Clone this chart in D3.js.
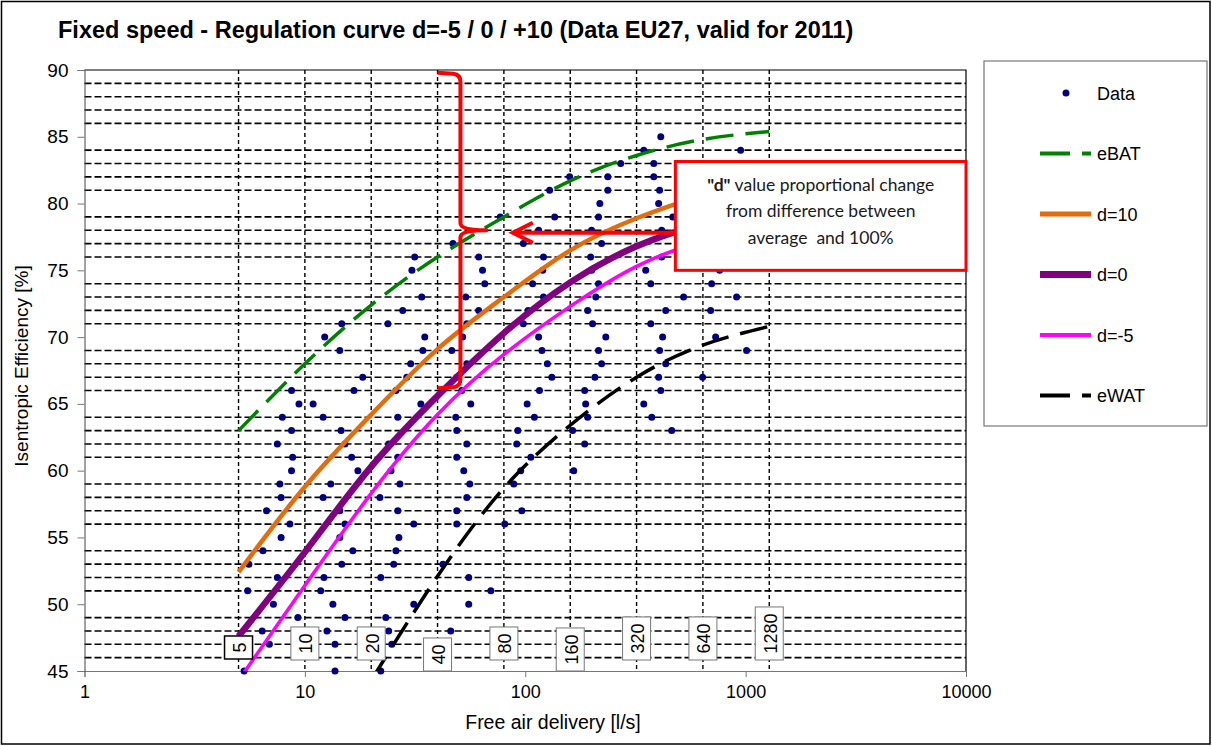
<!DOCTYPE html>
<html>
<head>
<meta charset="utf-8">
<script src="https://cdn.jsdelivr.net/npm/d3@7"></script>
<style>
  body { margin: 0; background: #fff; }
  svg text { font-family: "Liberation Sans", Arial, sans-serif; }
</style>
</head>
<body>
<svg width="1212" height="746"></svg>
<script>
// ---- data ----
var curveX = [5, 10, 20, 40, 80, 160, 320, 640, 1280];
var eBAT = [63.0, 68.0, 72.4, 76.0, 79.0, 81.7, 83.6, 84.8, 85.4];
var d10 = [52.4, 58.8, 64.2, 69.1, 73.0, 76.5, 78.9, 80.6, 81.8];
var d0 = [47.6, 53.9, 60.3, 65.6, 70.3, 74.1, 76.8, 78.5, 79.7];
var dm5 = [44.3, 51.4, 58.3, 64.2, 68.7, 72.3, 75.3, 77.2, 78.5];
var eWAT = [null, null, 44.3, 52.1, 58.7, 63.4, 67.0, 69.4, 70.8];

// measured units: [free air delivery l/s, isentropic efficiency %]
var dataPoints = [
  [412, 85],
  [345, 84], [949, 84],
  [271, 83], [383, 83],
  [159, 82], [237, 82], [383, 82],
  [129, 81], [237, 81], [407, 81],
  [218, 80], [403, 80],
  [77, 79], [136, 79], [215, 79], [467, 79],
  [115, 78], [200, 78], [416, 78],
  [47, 77], [98, 77], [222, 77],
  [31.5, 76], [61.5, 76], [121, 76], [198, 76], [416, 76],
  [30.6, 75], [64, 75], [120, 75], [200, 75], [352, 75], [762, 75],
  [65.5, 74], [108, 74], [215, 74], [371, 74], [701, 74],
  [33.9, 73], [53.7, 73], [121, 73], [209, 73], [523, 73], [910, 73],
  [27.8, 72], [61.5, 72], [103, 72], [192, 72], [434, 72], [694, 72],
  [14.7, 71], [23.8, 71], [54.3, 71], [98, 71], [202, 71], [371, 71],
  [12.3, 70], [35, 70], [52, 70], [115, 70], [232, 70], [420, 70], [731, 70],
  [14.4, 69], [34.3, 69], [46.4, 69], [119, 69], [215, 69], [407, 69], [1010, 69],
  [30.2, 68], [54.3, 68], [126, 68], [222, 68], [434, 68],
  [18.3, 67], [29, 67], [48.9, 67], [132, 67], [207, 67], [403, 67], [638, 67],
  [8.7, 66], [16.7, 66], [25.9, 66], [51.5, 66], [116, 66], [186, 66], [412, 66],
  [9.4, 65], [10.9, 65], [33.6, 65], [56.6, 65], [102, 65], [188, 65], [345, 65],
  [7.9, 64], [12.1, 64], [26.4, 64], [48.4, 64], [110, 64], [192, 64], [375, 64],
  [8.7, 63], [14.6, 63], [48.9, 63], [92.5, 63], [164, 63], [462, 63],
  [7.5, 62], [15.2, 62], [24, 62], [54.3, 62], [91.5, 62], [186, 62],
  [8.8, 61], [16.3, 61], [26.4, 61], [48.9, 61], [106, 61],
  [8.7, 60], [17.4, 60], [24.6, 60], [52.6, 60], [95.4, 60], [166, 60],
  [7.7, 59], [13.1, 59], [27, 59], [56, 59], [88.7, 59],
  [7.8, 58], [12.1, 58], [21.9, 58], [54.3, 58],
  [6.7, 57], [14.4, 57], [26.4, 57], [48.9, 57], [96.4, 57],
  [8.55, 56], [15.2, 56], [31.2, 56], [48.9, 56], [80.7, 56],
  [7.8, 55], [14.4, 55], [26.7, 55],
  [6.45, 54], [16.5, 54], [25.9, 54],
  [5.57, 53], [14.7, 53], [25.3, 53], [42.3, 53],
  [7.5, 52], [12.2, 52], [22.1, 52], [55.4, 52],
  [5.5, 51], [11.8, 51], [69.8, 51],
  [7.2, 50], [13.4, 50], [31.2, 50], [55.4, 50],
  [9.3, 49], [15.2, 49], [23.3, 49],
  [6.4, 48], [12.6, 48], [24, 48], [45.9, 48],
  [6.9, 47], [13.7, 47], [24.8, 47],
  [5.3, 45], [13.7, 45], [22.1, 45]
];

var xTicks = [1, 10, 100, 1000, 10000];
var yTicks = [45, 50, 55, 60, 65, 70, 75, 80, 85, 90];
var gridLabels = ["5", "10", "20", "40", "80", "160", "320", "640", "1280"];

var series = [
  { name: "eBAT", values: eBAT, color: "#008000", width: 3.5, dash: "28,12" },
  { name: "d=10", values: d10, color: "#E46C0A", width: 4.5, dash: null },
  { name: "d=0", values: d0, color: "#800080", width: 6.5, dash: null },
  { name: "d=-5", values: dm5, color: "#FF00FF", width: 3.5, dash: null },
  { name: "eWAT", values: eWAT, color: "#000000", width: 3.5, dash: "28,12" }
];

// ---- layout ----
var svg = d3.select("svg"),
  plotL = 84.5, plotR = 966, plotT = 70, plotB = 671;

var xScale = d3.scaleLog().domain([1, 10000]).range([plotL, plotR]),
  yScale = d3.scaleLinear().domain([45, 90]).range([plotB, plotT]);

// outer frame
svg.append("rect")
  .attr("x", 1.5).attr("y", 1.5).attr("width", 1208.5).attr("height", 742.5)
  .attr("fill", "#fff").attr("stroke", "#000").attr("stroke-width", 1.5);

// Title
svg.append("text")
  .attr("x", 58)
  .attr("y", 38)
  .style("font-size", "23.5px")
  .style("font-weight", "bold")
  .text("Fixed speed - Regulation curve d=-5 / 0 / +10 (Data EU27, valid for 2011)");

svg.append("clipPath").attr("id", "plotclip")
  .append("rect").attr("x", plotL).attr("y", plotT)
  .attr("width", plotR - plotL).attr("height", plotB - plotT);

// horizontal minor gridlines (every 1 %, none on the labelled 5 % steps)
var hGrid = d3.range(46, 90).filter(function (v) { return v % 5 !== 0; });
svg.append("g").selectAll("line")
  .data(hGrid).enter().append("line")
  .attr("x1", plotL).attr("x2", plotR)
  .attr("y1", function (d) { return yScale(d); })
  .attr("y2", function (d) { return yScale(d); })
  .attr("stroke", "#000").attr("stroke-width", 1.6)
  .attr("stroke-dasharray", "7,3");

// vertical dashed guide lines at 5, 10, 20 ... 1280
svg.append("g").selectAll("line")
  .data(curveX).enter().append("line")
  .attr("x1", function (d) { return xScale(d); })
  .attr("x2", function (d) { return xScale(d); })
  .attr("y1", plotT).attr("y2", plotB)
  .attr("stroke", "#000").attr("stroke-width", 1.4)
  .attr("stroke-dasharray", "4,3");

// plot frame
svg.append("path")
  .attr("d", "M" + plotL + "," + plotT + "H" + plotR + "V" + plotB)
  .attr("fill", "none").attr("stroke", "#000").attr("stroke-width", 1.2);

// X Axis
var xAxis = svg.append("g")
  .attr("transform", "translate(0," + plotB + ")")
  .call(d3.axisBottom(xScale).tickValues(xTicks).tickFormat(d3.format("d")).tickSizeOuter(0).tickSize(6).tickPadding(8));
xAxis.select(".domain").attr("stroke", "#777");
xAxis.selectAll(".tick line").attr("stroke", "#777");
xAxis.selectAll("text").style("font-size", "18px").attr("fill", "#000")
  .style("font-family", "'Liberation Sans', Arial, sans-serif");

// Y Axis
var yAxis = svg.append("g")
  .attr("transform", "translate(" + plotL + ",0)")
  .call(d3.axisLeft(yScale).tickValues(yTicks).tickSizeOuter(0).tickSize(7).tickPadding(9));
yAxis.select(".domain").attr("stroke", "#444");
yAxis.selectAll(".tick line").attr("stroke", "#777");
yAxis.selectAll("text").style("font-size", "19px").attr("fill", "#000")
  .style("font-family", "'Liberation Sans', Arial, sans-serif");

// axis titles
svg.append("text")
  .attr("x", 553).attr("y", 729)
  .attr("text-anchor", "middle")
  .style("font-size", "19.5px")
  .text("Free air delivery [l/s]");

svg.append("text")
  .attr("text-anchor", "middle")
  .attr("transform", "translate(28," + 366 + ")rotate(-90)")
  .style("font-size", "19px")
  .text("Isentropic Efficiency [%]");

// Place Dots
svg.append("g")
  .selectAll("circle")
  .data(dataPoints)
  .enter()
  .append("circle")
  .attr("cx", function (d) { return xScale(d[0]); })
  .attr("cy", function (d) { return yScale(d[1]); })
  .attr("r", 3.5)
  .style("fill", "#000080");

// curves
var line = d3.line()
  .defined(function (d) { return d[1] !== null; })
  .x(function (d) { return xScale(d[0]); })
  .y(function (d) { return yScale(d[1]); })
  .curve(d3.curveNatural);

var curves = svg.append("g").attr("clip-path", "url(#plotclip)");
series.forEach(function (s) {
  curves.append("path")
    .datum(curveX.map(function (xv, i) { return [xv, s.values[i]]; }))
    .attr("fill", "none")
    .attr("stroke", s.color)
    .attr("stroke-width", s.width)
    .attr("stroke-dasharray", s.dash)
    .attr("d", line);
});

// boxed labels on the guide lines
var labelLift = [12, 11, 11, 0, 11, 0, 11, 11, 11];
var lbl = svg.append("g");
gridLabels.forEach(function (t, i) {
  var cx = xScale(curveX[i]);
  var g = lbl.append("g");
  var rect = g.append("rect");
  var txt = g.append("text")
    .attr("text-anchor", "middle")
    .attr("dy", "0.35em")
    .style("font-size", "18px")
    .text(t);
  var len = txt.node().getComputedTextLength();
  var h = len + 13, w = 28;
  var b = plotB - labelLift[i];
  rect.attr("x", cx - w / 2).attr("y", b - h).attr("width", w).attr("height", h)
    .attr("fill", "#fff").attr("stroke", i === 0 ? "#000" : "#777").attr("stroke-width", i === 0 ? 1.5 : 1);
  txt.attr("transform", "translate(" + (cx + 1) + "," + (b - h / 2) + ")rotate(-90)");
});

// red brace
var bx0 = xScale(40), bx1 = xScale(50.8), bxm = xScale(66.7);
var byT = yScale(89.8), byM = yScale(78.0), byB = yScale(66.25);
svg.append("path")
  .attr("d", "M" + bx0 + "," + byT +
    "L" + (bx1 - 7) + "," + (byT + 1) +
    "Q" + bx1 + "," + (byT + 2) + " " + bx1 + "," + (byT + 9) +
    "L" + bx1 + "," + (byM - 7) +
    "Q" + bx1 + "," + byM + " " + bxm + "," + byM +
    "Q" + bx1 + "," + byM + " " + bx1 + "," + (byM + 7) +
    "L" + bx1 + "," + (byB - 8) +
    "Q" + bx1 + "," + (byB - 1) + " " + (bx1 - 7) + "," + byB +
    "L" + bx0 + "," + (byB + 1))
  .attr("fill", "none").attr("stroke", "#FF0000").attr("stroke-width", 4)
  .attr("stroke-linejoin", "round");

// red arrow from the note to the brace
var ay = yScale(77.82), ax0 = xScale(480), ax1 = xScale(87.8);
svg.append("line")
  .attr("x1", ax0).attr("x2", ax1).attr("y1", ay).attr("y2", ay)
  .attr("stroke", "#FF0000").attr("stroke-width", 4);
svg.append("path")
  .attr("d", "M" + (ax1 + 20) + "," + (ay - 10) + "L" + ax1 + "," + ay + "L" + (ax1 + 20) + "," + (ay + 10))
  .attr("fill", "none").attr("stroke", "#FF0000").attr("stroke-width", 4);

// note box
var nx0 = xScale(480), nx1 = xScale(10000), ny0 = yScale(83.15), ny1 = yScale(75);
svg.append("rect")
  .attr("x", nx0).attr("y", ny0).attr("width", nx1 - nx0).attr("height", ny1 - ny0)
  .attr("fill", "#fff").attr("stroke", "#FF0000").attr("stroke-width", 3);
var note = svg.append("g")
  .style("font-size", "17.5px")
  .attr("fill", "#1a1a1a");
var ncx = (nx0 + nx1) / 2;
var l1 = note.append("text").attr("x", ncx).attr("y", 191).attr("text-anchor", "middle")
  .style("font-family", "Lato, 'Open Sans', sans-serif");
l1.append("tspan").style("font-weight", "bold").text('"d"');
l1.append("tspan").text(" value proportional change");
note.append("text").attr("x", ncx).attr("y", 217).attr("text-anchor", "middle")
  .style("font-family", "Lato, 'Open Sans', sans-serif")
  .text("from difference between");
note.append("text").attr("x", ncx).attr("y", 244).attr("text-anchor", "middle")
  .style("font-family", "Lato, 'Open Sans', sans-serif")
  .style("white-space", "pre")
  .text("average  and 100%");

// Legend
var legend = svg.append("g");
legend.append("rect")
  .attr("x", 984).attr("y", 61).attr("width", 223).attr("height", 365)
  .attr("fill", "#fff").attr("stroke", "#777").attr("stroke-width", 1.2);
var legendItems = [{ name: "Data" }].concat(series);
legendItems.forEach(function (s, i) {
  var ly = 93 + i * 60.5;
  if (s.name === "Data") {
    legend.append("circle").attr("cx", 1066).attr("cy", ly).attr("r", 3.5).attr("fill", "#000080");
  } else {
    legend.append("line")
      .attr("x1", 1040).attr("x2", 1091).attr("y1", ly).attr("y2", ly)
      .attr("stroke", s.color).attr("stroke-width", s.width + 0.5)
      .attr("stroke-dasharray", s.dash ? "30,12" : null);
  }
  legend.append("text")
    .attr("x", 1097).attr("y", ly + 6.5)
    .style("font-size", "18px")
    .text(s.name);
});
</script>
</body>
</html>
